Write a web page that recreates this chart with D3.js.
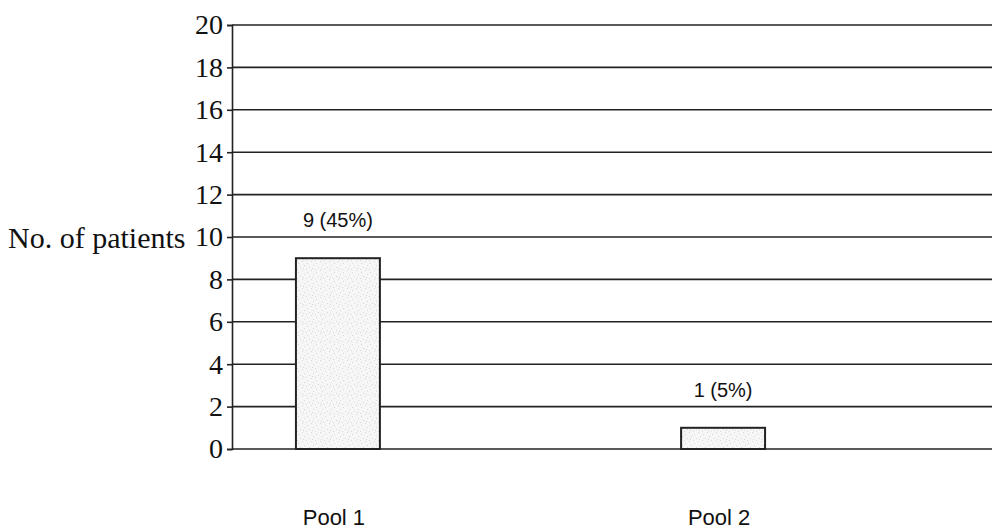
<!DOCTYPE html>
<html>
<head>
<meta charset="utf-8">
<script src="https://cdn.jsdelivr.net/npm/d3@7"></script>
<style>
  html, body { margin: 0; padding: 0; background: #fff; }
  svg { display: block; }
</style>
</head>
<body>
<svg id="chart" width="992" height="530"></svg>
<script>
// Patient counts per pool
const categories = ["Pool 1", "Pool 2"];
const patients = [9, 1];
const valueLabels = ["9 (45%)", "1 (5%)"];
const yTicks = [0, 2, 4, 6, 8, 10, 12, 14, 16, 18, 20];
const yTitle = "No. of patients";

const svg = d3.select("#chart");
const W = 992;
const margin = { left: 232, top: 25, bottom: 449 };

const y = d3.scaleLinear().domain([0, 20]).range([margin.bottom, margin.top]);
const x = d3.scaleBand()
  .domain(categories)
  .range([margin.left, margin.left + 597])
  .paddingInner(0.782)
  .paddingOuter(0.166);

// stippled light-grey fill for the bars
const defs = svg.append("defs");
const pat = defs.append("pattern")
  .attr("id", "stipple")
  .attr("patternUnits", "userSpaceOnUse")
  .attr("width", 9).attr("height", 9);
pat.append("rect").attr("width", 9).attr("height", 9).attr("fill", "#f6f6f6");
[[1, 2], [5, 0], [3, 6], [7, 4], [0, 8], [6, 7]].forEach(([px, py]) => {
  pat.append("rect").attr("x", px).attr("y", py)
    .attr("width", 1).attr("height", 1).attr("fill", "#d8d8d8");
});

// horizontal gridlines
svg.append("g")
  .selectAll("line")
  .data(yTicks)
  .join("line")
  .attr("x1", margin.left).attr("x2", W)
  .attr("y1", d => y(d)).attr("y2", d => y(d))
  .attr("stroke", "#222").attr("stroke-width", 1.6);

// y axis with serif tick labels
const yAxis = svg.append("g")
  .attr("transform", `translate(${margin.left},0)`)
  .call(d3.axisLeft(y).tickValues(yTicks).tickSize(5).tickPadding(4).tickFormat(d3.format("d")));
yAxis.select(".domain").attr("stroke", "#222").attr("stroke-width", 1.6);
yAxis.selectAll(".tick line").attr("stroke", "#222").attr("stroke-width", 1.6);
yAxis.selectAll(".tick text")
  .attr("font-family", "'Liberation Serif', 'Times New Roman', serif")
  .attr("font-size", 28)
  .attr("fill", "#111");

// axis title
svg.append("text")
  .attr("x", 8)
  .attr("y", y(10))
  .attr("dy", "0.35em")
  .attr("font-family", "'Liberation Serif', 'Times New Roman', serif")
  .attr("font-size", 30)
  .attr("fill", "#111")
  .text(yTitle);

// bars
svg.append("g")
  .selectAll("rect")
  .data(categories)
  .join("rect")
  .attr("x", d => x(d))
  .attr("y", (d, i) => y(patients[i]))
  .attr("width", x.bandwidth())
  .attr("height", (d, i) => y(0) - y(patients[i]))
  .attr("fill", "url(#stipple)")
  .attr("stroke", "#222")
  .attr("stroke-width", 2);

// value labels above bars
svg.append("g")
  .selectAll("text")
  .data(categories)
  .join("text")
  .attr("x", d => x(d) + x.bandwidth() / 2)
  .attr("y", (d, i) => y(patients[i]) - 31)
  .attr("text-anchor", "middle")
  .attr("font-family", "'Liberation Sans', Arial, sans-serif")
  .attr("font-size", 20)
  .attr("fill", "#111")
  .text((d, i) => valueLabels[i]);

// category labels
svg.append("g")
  .selectAll("text")
  .data(categories)
  .join("text")
  .attr("x", d => x(d) + x.bandwidth() / 2 - 4)
  .attr("y", 525)
  .attr("text-anchor", "middle")
  .attr("font-family", "'Liberation Sans', Arial, sans-serif")
  .attr("font-size", 22)
  .attr("fill", "#111")
  .text(d => d);
</script>
</body>
</html>
